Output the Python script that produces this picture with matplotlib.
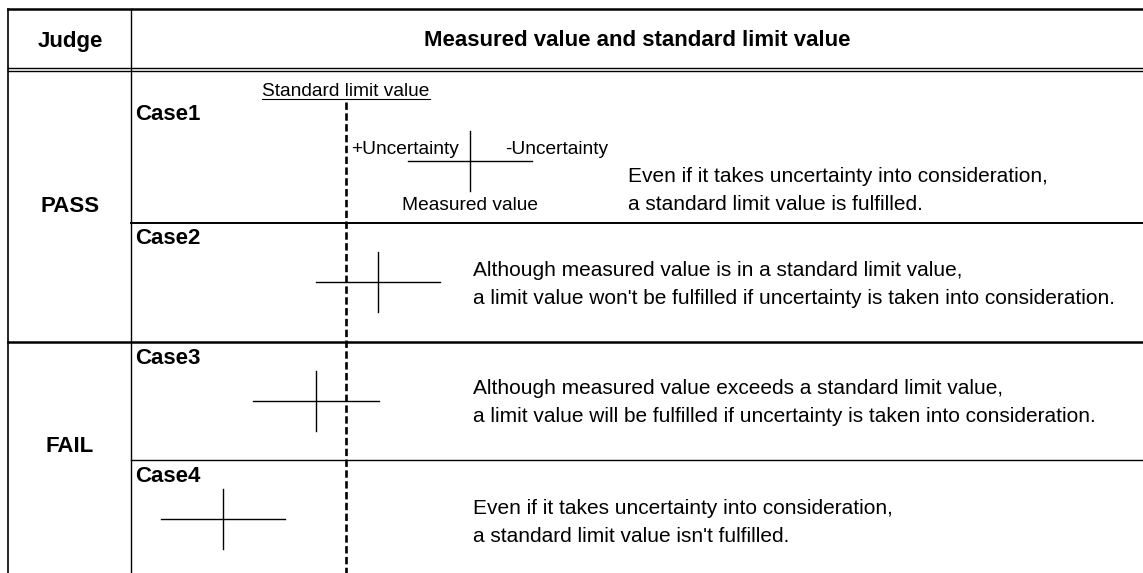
import matplotlib
matplotlib.use("Agg")
import matplotlib.pyplot as plt

plt.rcParams['font.family'] = ['Liberation Sans', 'DejaVu Sans']

# table texts
judges = ["PASS", "FAIL"]
judge_y = [206, 447]
cases = ["Case1", "Case2", "Case3", "Case4"]
case_label_y = [115, 238, 358, 477]
descriptions = [
    ["Even if it takes uncertainty into consideration,",
     "a standard limit value is fulfilled."],
    ["Although measured value is in a standard limit value,",
     "a limit value won't be fulfilled if uncertainty is taken into consideration."],
    ["Although measured value exceeds a standard limit value,",
     "a limit value will be fulfilled if uncertainty is taken into consideration."],
    ["Even if it takes uncertainty into consideration,",
     "a standard limit value isn't fulfilled."],
]
desc_x = [628, 473, 473, 473]
desc_y = [177, 270, 389, 508]

# measured value (cross centre) and uncertainty half width, in drawing units
limit_x = 346
measured_x = [470, 378, 316, 223]
measured_y = [161, 282, 401, 519]
uncertainty = [62, 62, 63, 62]
cross_half_h = 30

W, H = 1143, 573
fig = plt.figure(figsize=(W / 100, H / 100), dpi=100)
ax = fig.add_axes([0, 0, 1, 1])
ax.set_xlim(0, W)
ax.set_ylim(H, 0)
ax.axis('off')

k = 'black'
BOLD = 16
BODY = 15
NOTE = 13.8

# table frame
ax.plot([8, W], [9, 9], color=k, lw=1.8)
ax.plot([8, 8], [9, H], color=k, lw=1.2)
ax.plot([131, 131], [9, H], color=k, lw=1.0)
ax.plot([8, W], [68, 68], color=k, lw=1.0)
ax.plot([8, W], [71, 71], color=k, lw=1.0)
ax.plot([131, W], [223, 223], color=k, lw=1.4)
ax.plot([8, W], [342, 342], color=k, lw=1.8)
ax.plot([131, W], [460, 460], color=k, lw=1.0)

# header
ax.text(70, 41, "Judge", ha='center', va='center', fontsize=BOLD, fontweight='bold')
ax.text(637, 41, "Measured value and standard limit value", ha='center', va='center',
        fontsize=BOLD, fontweight='bold')

for name, y in zip(judges, judge_y):
    ax.text(70, y, name, ha='center', va='center', fontsize=BOLD, fontweight='bold')

for name, y in zip(cases, case_label_y):
    ax.text(135, y, name, ha='left', va='center', fontsize=BOLD, fontweight='bold')

for lines, x, y in zip(descriptions, desc_x, desc_y):
    ax.text(x, y, lines[0], ha='left', va='center', fontsize=BODY)
    ax.text(x, y + 28, lines[1], ha='left', va='center', fontsize=BODY)

# standard limit line
ax.plot([limit_x, limit_x], [102, H], color=k, lw=1.9, linestyle=(0, (2.8, 1.3)))
lbl = ax.text(limit_x, 91, "Standard limit value", ha='center', va='center', fontsize=NOTE)

# measured value with uncertainty
for x, y, u in zip(measured_x, measured_y, uncertainty):
    ax.plot([x - u, x + u], [y, y], color=k, lw=1.0)
    ax.plot([x, x], [y - cross_half_h, y + cross_half_h], color=k, lw=1.0)

ax.text(351, 150, "+Uncertainty", ha='left', va='center', fontsize=NOTE)
ax.text(505, 150, "-Uncertainty", ha='left', va='center', fontsize=NOTE)
ax.text(measured_x[0], 205, "Measured value", ha='center', va='center', fontsize=NOTE)

# underline for the limit label
fig.canvas.draw()
bb = lbl.get_window_extent().transformed(ax.transData.inverted())
x0, x1 = sorted([bb.x0, bb.x1])
ax.plot([x0, x1], [99, 99], color=k, lw=0.8)

fig.savefig("out.png", dpi=100)
